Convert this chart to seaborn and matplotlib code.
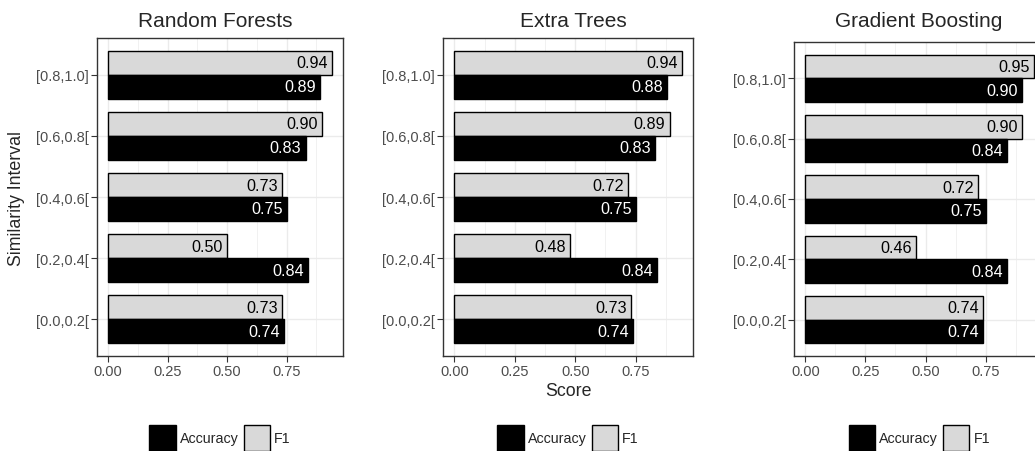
import numpy as np
import pandas as pd
import matplotlib
matplotlib.use("Agg")
import matplotlib.pyplot as plt
from matplotlib.patches import Patch
import seaborn as sns

# Similarity intervals, listed top to bottom
intervals = ["[0.8,1.0]", "[0.6,0.8[", "[0.4,0.6[", "[0.2,0.4[", "[0.0,0.2["]
models = ["Random Forests", "Extra Trees", "Gradient Boosting"]

rf_f1 = [0.94, 0.90, 0.73, 0.50, 0.73]
rf_acc = [0.89, 0.83, 0.75, 0.84, 0.74]
et_f1 = [0.94, 0.89, 0.72, 0.48, 0.73]
et_acc = [0.88, 0.83, 0.75, 0.84, 0.74]
gb_f1 = [0.95, 0.90, 0.72, 0.46, 0.74]
gb_acc = [0.90, 0.84, 0.75, 0.84, 0.74]

scores = {
    "Random Forests": (rf_acc, rf_f1),
    "Extra Trees": (et_acc, et_f1),
    "Gradient Boosting": (gb_acc, gb_f1),
}

x_ticks = [0.0, 0.25, 0.50, 0.75]
x_ticklabels = ["0.00", "0.25", "0.50", "0.75"]

sns.set_theme(style="white")
plt.rcParams["font.family"] = ["Liberation Sans", "DejaVu Sans"]

W, H = 1035, 452
fig = plt.figure(figsize=(W / 100, H / 100), dpi=100)

# panel boxes in pixels: left, right, top, bottom
boxes = [(97, 343, 39, 357), (443, 693, 39, 357), (794, 1045, 43, 357)]
title_x = [215.5, 573, 919]

colors = {"F1": "#D9D9D9", "Accuracy": "#000000"}
hue_order = ["F1", "Accuracy"]

for model, (l, r, t, b), tx in zip(models, boxes, title_x):
    acc, f1 = scores[model]
    df = pd.DataFrame({
        "interval": intervals * 2,
        "metric": ["Accuracy"] * len(intervals) + ["F1"] * len(intervals),
        "score": list(acc) + list(f1),
    })
    ax = fig.add_axes([l / W, (H - b) / H, (r - l) / W, (b - t) / H])
    sns.barplot(data=df, x="score", y="interval", hue="metric",
                order=intervals, hue_order=hue_order, palette=colors,
                edgecolor="black", linewidth=1.0, width=0.78, gap=0,
                legend=False, ax=ax, zorder=3)

    # value labels inside the bar ends
    for metric, cont in zip(hue_order, ax.containers):
        vals = df[df.metric == metric].set_index("interval").loc[intervals, "score"].values
        for bar, v in zip(cont, vals):
            ax.annotate(f"{v:.2f}", xy=(v, bar.get_y() + bar.get_height() / 2),
                        xytext=(-3, 0), textcoords="offset points",
                        ha="right", va="center", fontsize=11.6,
                        color="white" if metric == "Accuracy" else "black",
                        zorder=4)

    mx = df.score.max()
    ax.set_xlim(-0.05 * mx, 1.05 * mx)
    ax.set_ylim(len(intervals) - 1 + 0.6, -0.6)

    ax.set_xticks(x_ticks)
    ax.set_xticklabels(x_ticklabels)
    ax.set_xticks([0.125, 0.375, 0.625, 0.875], minor=True)
    ax.grid(True, which="major", color="#EBEBEB", linewidth=1.0, zorder=0)
    ax.grid(True, which="minor", axis="x", color="#EBEBEB", linewidth=0.5, zorder=0)
    ax.set_axisbelow(True)

    ax.tick_params(axis="both", which="major", length=4, width=0.8,
                   color="#333333", labelcolor="#4D4D4D", labelsize=10.5,
                   pad=2, bottom=True, left=True)
    ax.tick_params(axis="both", which="minor", length=0)
    for sp in ax.spines.values():
        sp.set_color("#333333")
        sp.set_linewidth(1.0)

    ax.set_ylabel("")
    ax.set_xlabel("")
    if model == "Random Forests":
        ax.set_ylabel("Similarity Interval", fontsize=12.8, labelpad=8)
    if model == "Extra Trees":
        ax.set_xlabel("Score", fontsize=12.8, labelpad=3)

    fig.text(tx / W, 1 - 27 / H, model, ha="center", va="baseline", fontsize=15)

    cx = (l + r) / 2
    handles = [Patch(facecolor=colors["Accuracy"], edgecolor="black", linewidth=1.0, label="Accuracy"),
               Patch(facecolor=colors["F1"], edgecolor="black", linewidth=1.0, label="F1")]
    fig.legend(handles=handles, loc="center", bbox_to_anchor=(cx / W, 1 - 439 / H),
               ncol=2, frameon=False, fontsize=10.3, handlelength=1.82,
               handleheight=2.42, handletextpad=0.3, columnspacing=0.35,
               borderpad=0, borderaxespad=0)

fig.savefig("out.png", dpi=100)
